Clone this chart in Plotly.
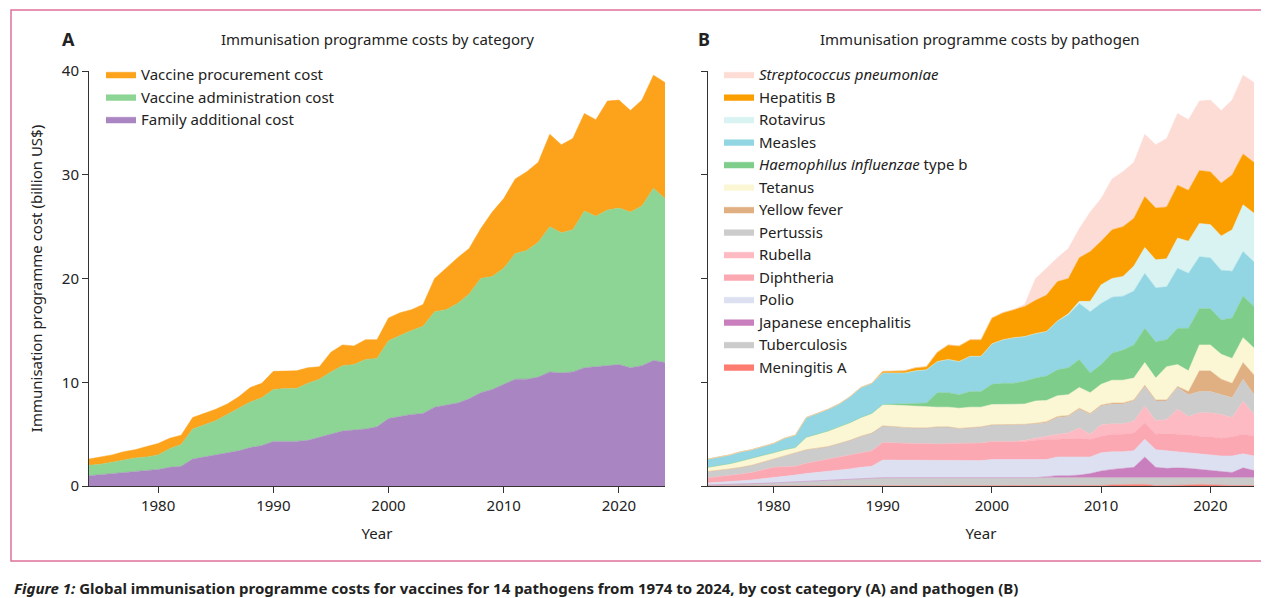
import plotly.graph_objects as go

# =========================
# DATA (upper edge of each stacked band, billion US$)
# =========================
years = list(range(1974, 2025))

# Panel A
family_top = [1.0, 1.1, 1.2, 1.3, 1.4, 1.5, 1.6, 1.8, 1.9, 2.6, 2.8, 3.0, 3.2, 3.4, 3.7, 3.9,
              4.3, 4.3, 4.3, 4.4, 4.7, 5.0, 5.3, 5.4, 5.5, 5.7,
              6.5, 6.7, 6.9, 7.0, 7.6, 7.8, 8.0, 8.4, 9.0, 9.3,
              9.8, 10.3, 10.3, 10.5, 11.0, 10.9, 11.0, 11.4, 11.5, 11.6,
              11.7, 11.4, 11.6, 12.1, 11.9]
admin_top = [2.0, 2.1, 2.3, 2.5, 2.7, 2.8, 3.0, 3.6, 4.0, 5.5, 5.9, 6.3, 6.9, 7.5, 8.1, 8.5,
             9.3, 9.4, 9.4, 9.9, 10.3, 11.0, 11.6, 11.7, 12.2, 12.3,
             14.0, 14.5, 15.0, 15.4, 16.8, 17.0, 17.6, 18.5, 20.0, 20.2,
             21.0, 22.4, 22.7, 23.5, 25.0, 24.4, 24.7, 26.5, 26.0, 26.6,
             26.8, 26.4, 27.0, 28.7, 27.7]

# Panel B
mening_top = [0, 0, 0, 0, 0, 0, 0, 0, 0, 0, 0, 0, 0, 0, 0, 0,
              0, 0, 0, 0, 0, 0, 0, 0, 0, 0,
              0, 0, 0, 0, 0, 0, 0, 0, 0, 0,
              0.05, 0.1, 0.15, 0.15, 0.15, 0.05, 0.05, 0.05, 0.1, 0.15,
              0.1, 0.05, 0.05, 0.05, 0.05]
tb_top = [0.1, 0.12, 0.15, 0.18, 0.22, 0.26, 0.3, 0.35, 0.4, 0.45, 0.5, 0.55, 0.6, 0.68, 0.75, 0.78,
          0.8, 0.8, 0.8, 0.8, 0.8, 0.8, 0.8, 0.8, 0.8, 0.8,
          0.8, 0.8, 0.8, 0.8, 0.8, 0.8, 0.8, 0.8, 0.8, 0.8,
          0.85, 0.85, 0.85, 0.85, 0.85, 0.85, 0.85, 0.85, 0.85, 0.85,
          0.8, 0.8, 0.8, 0.8, 0.8]
je_top = [0.1, 0.12, 0.15, 0.18, 0.22, 0.26, 0.3, 0.35, 0.4, 0.45, 0.5, 0.55, 0.6, 0.68, 0.75, 0.78,
          0.8, 0.8, 0.8, 0.8, 0.8, 0.8, 0.8, 0.8, 0.8, 0.8,
          0.8, 0.8, 0.8, 0.8, 0.8, 0.9, 1.0, 1.0, 1.05, 1.2,
          1.45, 1.6, 1.7, 1.8, 2.8, 1.8, 1.7, 1.75, 1.7, 1.6,
          1.5, 1.4, 1.3, 1.75, 1.5]
polio_top = [0.3, 0.35, 0.42, 0.5, 0.58, 0.68, 0.8, 0.92, 1.05, 1.2, 1.3, 1.4, 1.55, 1.65, 1.8, 1.9,
             2.5, 2.5, 2.5, 2.45, 2.45, 2.45, 2.45, 2.45, 2.45, 2.45,
             2.55, 2.55, 2.55, 2.55, 2.5, 2.55, 2.8, 2.8, 2.8, 2.8,
             3.2, 3.3, 3.3, 3.4, 4.5, 3.5, 3.4, 3.3, 3.2, 3.1,
             3.05, 2.9, 2.9, 3.1, 2.9]
diph_top = [0.8, 0.9, 1.0, 1.15, 1.3, 1.55, 1.8, 1.85, 1.9, 2.2, 2.4, 2.6, 2.8, 3.0, 3.2, 3.4,
            4.2, 4.15, 4.1, 4.1, 4.1, 4.05, 4.1, 4.1, 4.1, 4.15,
            4.3, 4.3, 4.3, 4.3, 4.4, 4.5, 4.5, 4.55, 4.6, 4.5,
            4.8, 5.0, 5.0, 5.1, 6.1, 5.0, 5.05, 5.0, 4.95, 4.8,
            4.75, 4.6, 4.75, 5.0, 4.8]
rubella_top = [0.8, 0.9, 1.0, 1.15, 1.3, 1.55, 1.8, 1.85, 1.9, 2.2, 2.4, 2.6, 2.8, 3.0, 3.2, 3.4,
               4.2, 4.15, 4.1, 4.1, 4.1, 4.05, 4.1, 4.1, 4.1, 4.15,
               4.3, 4.3, 4.3, 4.4, 4.6, 4.8, 5.0, 5.1, 5.6, 5.0,
               5.9, 6.0, 6.0, 6.25, 7.7, 6.3, 6.4, 7.4, 6.7, 7.05,
               7.05, 6.9, 6.6, 8.2, 6.9]
pert_top = [1.4, 1.5, 1.65, 1.8, 2.0, 2.3, 2.6, 2.9, 3.2, 3.5, 3.65, 3.8, 4.1, 4.4, 4.8, 5.1,
            5.8, 5.7, 5.65, 5.6, 5.6, 5.7, 5.7, 5.55, 5.6, 5.7,
            5.9, 5.9, 5.9, 5.95, 6.0, 6.1, 6.6, 6.7, 7.4, 6.9,
            7.7, 7.9, 7.9, 8.2, 9.6, 8.2, 8.2, 9.5, 8.8, 9.1,
            9.1, 8.8, 8.5, 10.3, 8.8]
yf_top = [1.4, 1.5, 1.65, 1.8, 2.0, 2.3, 2.6, 2.9, 3.2, 3.5, 3.65, 3.8, 4.1, 4.4, 4.8, 5.1,
          5.8, 5.7, 5.65, 5.6, 5.6, 5.7, 5.7, 5.55, 5.6, 5.7,
          5.9, 5.9, 5.9, 5.95, 6.05, 6.2, 6.7, 6.8, 7.5, 7.0,
          7.8, 8.0, 8.0, 8.3, 9.7, 8.3, 8.3, 9.6, 9.1, 11.1,
          11.1, 10.3, 9.9, 11.9, 10.7]
tet_top = [1.8, 1.95, 2.15, 2.4, 2.7, 2.95, 3.2, 3.5, 3.7, 4.7, 5.0, 5.3, 5.7, 6.1, 6.6, 7.0,
           7.85, 7.8, 7.75, 7.7, 7.6, 7.6, 7.6, 7.5, 7.6, 7.6,
           7.85, 7.85, 7.85, 7.9, 8.2, 8.25, 8.7, 8.8, 9.5, 9.0,
           9.8, 10.2, 10.2, 10.4, 11.9, 10.4, 11.5, 11.7, 11.1, 13.6,
           13.6, 12.7, 12.3, 14.3, 13.3]
hib_top = [1.8, 1.95, 2.15, 2.4, 2.7, 2.95, 3.2, 3.5, 3.7, 4.7, 5.0, 5.3, 5.7, 6.1, 6.6, 7.0,
           7.85, 7.9, 7.9, 7.95, 8.0, 9.0, 9.0, 8.8, 9.1, 9.1,
           9.8, 9.9, 9.9, 10.1, 10.4, 10.6, 11.2, 11.4, 12.2, 10.9,
           11.7, 12.8, 13.1, 13.6, 15.2, 13.9, 14.1, 15.2, 15.2, 17.1,
           17.1, 16.0, 16.2, 18.3, 17.3]
measles_top = [2.6, 2.8, 3.0, 3.3, 3.5, 3.8, 4.1, 4.6, 4.9, 6.6, 7.0, 7.4, 7.9, 8.6, 9.5, 9.9,
               10.9, 10.9, 10.9, 11.1, 11.2, 12.0, 12.2, 12.0, 12.5, 12.5,
               13.7, 14.1, 14.3, 14.4, 14.7, 14.9, 15.9, 16.5, 17.6, 16.8,
               17.6, 18.2, 18.3, 18.8, 20.5, 19.1, 19.2, 21.0, 20.5, 22.1,
               22.0, 20.8, 20.7, 22.6, 21.6]
rota_top = [2.6, 2.8, 3.0, 3.3, 3.5, 3.8, 4.1, 4.6, 4.9, 6.6, 7.0, 7.4, 7.9, 8.6, 9.5, 9.9,
            10.9, 10.9, 10.9, 11.1, 11.2, 12.0, 12.2, 12.0, 12.5, 12.5,
            13.7, 14.1, 14.3, 14.4, 14.7, 14.9, 15.9, 16.6, 17.8, 17.8,
            19.4, 20.0, 20.2, 21.2, 23.0, 21.8, 21.9, 23.9, 23.6, 25.3,
            25.2, 24.1, 24.7, 27.1, 26.3]
hepb_top = [2.6, 2.8, 3.0, 3.3, 3.5, 3.8, 4.1, 4.6, 4.9, 6.6, 7.0, 7.4, 7.9, 8.6, 9.5, 9.9,
            11.05, 11.05, 11.1, 11.4, 11.5, 12.9, 13.6, 13.5, 14.1, 14.1,
            16.2, 16.7, 17.0, 17.3, 17.9, 18.4, 19.7, 20.0, 22.0, 22.6,
            23.6, 24.7, 25.0, 25.8, 27.9, 26.8, 26.9, 29.0, 28.5, 30.4,
            30.3, 29.2, 30.0, 32.0, 31.2]
strep_top = [2.6, 2.8, 3.0, 3.3, 3.5, 3.8, 4.1, 4.6, 4.9, 6.6, 7.0, 7.4, 7.9, 8.6, 9.5, 9.9,
             11.05, 11.05, 11.1, 11.4, 11.5, 12.9, 13.6, 13.5, 14.1, 14.1,
             16.2, 16.7, 17.0, 17.5, 20.0, 21.0, 22.0, 22.9, 24.8, 26.4,
             27.7, 29.6, 30.3, 31.2, 33.9, 32.9, 33.5, 35.9, 35.3, 37.1,
             37.2, 36.2, 37.2, 39.6, 38.9]

panel_a = [
    ("Family additional cost", family_top, "#a985c1"),
    ("Vaccine administration cost", admin_top, "#8cd594"),
    ("Vaccine procurement cost", strep_top, "#fca21b"),
]
panel_b = [
    ("Meningitis A", mening_top, "#fd7b6f"),
    ("Tuberculosis", tb_top, "#cbcbcb"),
    ("Japanese encephalitis", je_top, "#c97fbd"),
    ("Polio", polio_top, "#dde0f1"),
    ("Diphtheria", diph_top, "#fba8b3"),
    ("Rubella", rubella_top, "#fdbac3"),
    ("Pertussis", pert_top, "#cccccc"),
    ("Yellow fever", yf_top, "#e0b083"),
    ("Tetanus", tet_top, "#fbf7d5"),
    ("<i>Haemophilus influenzae</i> type b", hib_top, "#7fcd8b"),
    ("Measles", measles_top, "#93d6e3"),
    ("Rotavirus", rota_top, "#d9f3f3"),
    ("Hepatitis B", hepb_top, "#fb9e00"),
    ("<i>Streptococcus pneumoniae</i>", strep_top, "#fddcd6"),
]

FONT = "Noto Sans"
fig = go.Figure()

for i, (name, top, col) in enumerate(panel_a):
    fig.add_trace(go.Scatter(
        x=years, y=top, name=name, mode="lines",
        line=dict(width=0.5, color=col), fill="tozeroy" if i == 0 else "tonexty",
        fillcolor=col, xaxis="x", yaxis="y", legend="legend"))

for i, (name, top, col) in enumerate(panel_b):
    fig.add_trace(go.Scatter(
        x=years, y=top, name=name, mode="lines",
        line=dict(width=0.5, color=col), fill="tozeroy" if i == 0 else "tonexty",
        fillcolor=col, xaxis="x2", yaxis="y2", legend="legend2"))

axis_common = dict(showgrid=False, zeroline=False, showline=True, linecolor="#333",
                   linewidth=1, ticks="outside", ticklen=6, tickcolor="#333",
                   automargin=False, tickfont=dict(size=15, color="#222"))

W, H = 1269, 598
ydom = [(H - 478) / H, (H - 63) / H]

fig.update_layout(
    width=W, height=H,
    margin=dict(l=0, r=0, t=0, b=0, autoexpand=False),
    paper_bgcolor="white", plot_bgcolor="white",
    font=dict(family=FONT, color="#222"),
    showlegend=True,
    xaxis=dict(domain=[81 / W, 657 / W], range=[1974, 2024], tickvals=[1980, 1990, 2000, 2010, 2020],
               title=dict(text="Year", font=dict(size=15), standoff=14), anchor="y", **axis_common),
    yaxis=dict(domain=ydom, range=[0, 40], tickvals=[0, 10, 20, 30, 40],
               title=dict(text="Immunisation programme cost (billion US$)", font=dict(size=15)),
               anchor="x", **axis_common),
    xaxis2=dict(domain=[700 / W, 1246 / W], range=[1974, 2024], tickvals=[1980, 1990, 2000, 2010, 2020],
                title=dict(text="Year", font=dict(size=15), standoff=14), anchor="y2", **axis_common),
    yaxis2=dict(domain=ydom, range=[0, 40], tickvals=[0, 10, 20, 30, 40], showticklabels=False,
                anchor="x2", **axis_common),
    legend=dict(x=93 / W, y=(H - 50) / H, xanchor="left", yanchor="top", traceorder="reversed",
                font=dict(size=15), bgcolor="rgba(0,0,0,0)", tracegroupgap=0, itemwidth=30),
    legend2=dict(x=711 / W, y=(H - 50) / H, xanchor="left", yanchor="top", traceorder="reversed",
                 font=dict(size=15), bgcolor="rgba(0,0,0,0)", tracegroupgap=0, itemwidth=30),
)

ann = [
    dict(x=60 / W, y=(H - 31) / H, text="<b>A</b>", font=dict(size=18)),
    dict(x=370 / W, y=(H - 31) / H, text="Immunisation programme costs by category", font=dict(size=15)),
    dict(x=696 / W, y=(H - 31) / H, text="<b>B</b>", font=dict(size=18)),
    dict(x=972 / W, y=(H - 31) / H, text="Immunisation programme costs by pathogen", font=dict(size=15)),
    dict(x=4 / W, y=(H - 580) / H, xanchor="left",
         text="<b><i>Figure 1:</i> Global immunisation programme costs for vaccines for 14 pathogens "
              "from 1974 to 2024, by cost category (A) and pathogen (B)</b>",
         font=dict(size=15)),
]
for a in ann:
    a.setdefault("xanchor", "center")
    fig.add_annotation(xref="paper", yref="paper", yanchor="middle", showarrow=False, **a)

# pink frame round the two panels
fig.add_shape(type="rect", xref="paper", yref="paper",
              x0=3 / W, x1=1264 / W, y0=(H - 553) / H, y1=(H - 2) / H,
              line=dict(color="#e0709a", width=1.5), fillcolor="rgba(0,0,0,0)")

fig.write_html("out.html")
